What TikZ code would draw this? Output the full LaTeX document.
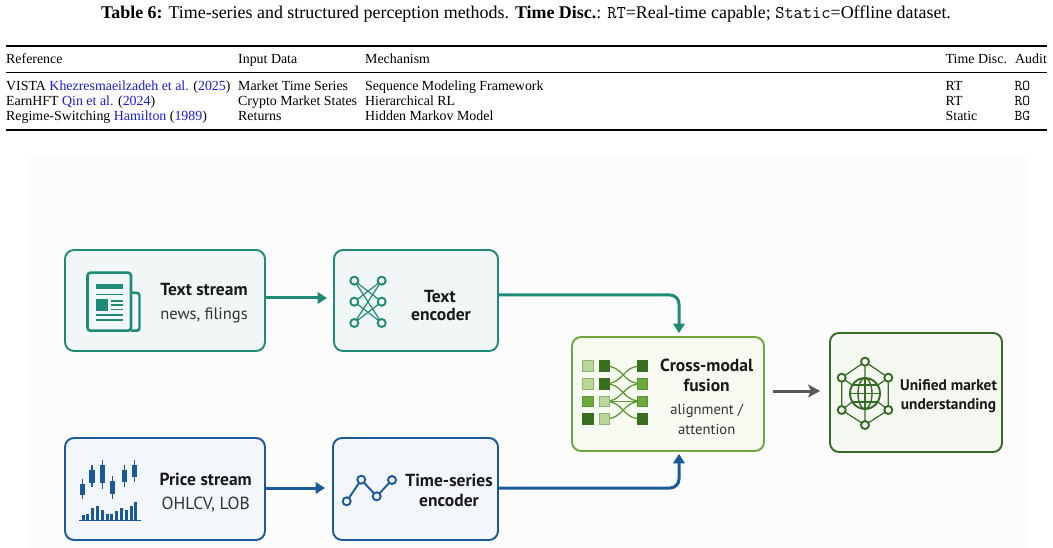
\documentclass[tikz,border=0pt]{standalone}
\usepackage{fontspec}
\setmainfont{Liberation Serif}
\newfontfamily\diagfont{PT Sans}
\usetikzlibrary{arrows.meta,calc}
\definecolor{teal1}{HTML}{1F8A78}
\definecolor{teal2}{HTML}{F0F7F6}
\definecolor{blue1}{HTML}{1A5A9A}
\definecolor{blue2}{HTML}{F3F7FB}
\definecolor{lime1}{HTML}{6FA83E}
\definecolor{lime2}{HTML}{F6FAF0}
\definecolor{grn1}{HTML}{356B25}
\definecolor{grn2}{HTML}{F4F8F0}
\definecolor{sqL}{HTML}{B9D79A}
\definecolor{sqM}{HTML}{6DA93D}
\definecolor{sqD}{HTML}{38701F}
\definecolor{linkc}{HTML}{1A1AE6}
\definecolor{panel}{HTML}{FCFCFC}
\definecolor{arrowg}{HTML}{595959}
\tikzset{
 x=1pt,y=-1pt,
 box/.style={draw=#1,line width=1.9pt,rounded corners=9pt,inner sep=0pt},
 tbl/.style={anchor=base west,inner sep=0pt,font=\fontsize{13.9}{15}\selectfont},
 head/.style={font=\diagfont\fontsize{17.5}{20}\selectfont\bfseries,inner sep=0pt,text=black!90},
 sub/.style={font=\diagfont\fontsize{16.5}{19}\selectfont,inner sep=0pt,text=black!80},
 flow/.style={line width=3pt,-{Stealth[length=9.5pt,width=11.5pt,inset=0pt]}},
 bent/.style={flow,rounded corners=9pt},
 sq/.style={minimum size=10.5pt,inner sep=0pt,draw=#1!65!sqD,line width=.8pt,fill=#1},
 ring/.style={circle,draw=#1,line width=1.9pt,fill=white,minimum size=8pt,inner sep=0pt},
}
\newcommand{\lnk}[1]{\textcolor{linkc}{#1}}
\newcommand{\ttcell}[1]{{\ttfamily\fontsize{15}{15}\selectfont #1}}
\begin{document}
\begin{tikzpicture}
\useasboundingbox (0,0) rectangle (1053,548);
\fill[panel] (27,155) rectangle (1027,548);
% caption
\node[anchor=base,inner sep=0pt,font=\fontsize{17.93}{20}\selectfont] (cap) at (526,18.5) {\textbf{Table 6:} Time-series and structured perception methods. \textbf{Time Disc.}: \texttt{RT}=Real-time capable; \texttt{Static}=Offline dataset.};
% rules
\coordinate (rtl) at (6,46); \coordinate (rtr) at (1047,46);
\coordinate (rml) at (6,72); \coordinate (rmr) at (1047,72);
\coordinate (rbl) at (6,130); \coordinate (rbr) at (1047,130);
\draw[line width=1.3pt] (rtl) -- (rtr);
\draw[line width=.7pt] (rml) -- (rmr);
\draw[line width=1.3pt] (rbl) -- (rbr);
% table
\node[tbl] (h1) at (6,64) {Reference};
\node[tbl] (h2) at (238,64) {Input Data};
\node[tbl] (h3) at (365,64) {Mechanism};
\node[tbl] (h4) at (945.5,64) {Time Disc.};
\node[tbl] (h5) at (1015,64) {Audit};
\node[tbl] (a1) at (6,90.5) {VISTA \lnk{Khezresmaeilzadeh et al.} (\lnk{2025})};
\node[tbl] (a2) at (238,90.5) {Market Time Series};
\node[tbl] (a3) at (365,90.5) {Sequence Modeling Framework};
\node[tbl] (a4) at (945.5,90.5) {RT};
\node[tbl] (a5) at (1014.5,90.5) {\ttcell{RO}};
\node[tbl] (b1) at (6,106) {EarnHFT \lnk{Qin et al.} (\lnk{2024})};
\node[tbl] (b2) at (238,106) {Crypto Market States};
\node[tbl] (b3) at (365,106) {Hierarchical RL};
\node[tbl] (b4) at (945.5,106) {RT};
\node[tbl] (b5) at (1014.5,106) {\ttcell{RO}};
\node[tbl] (c1) at (6,121) {Regime-Switching \lnk{Hamilton} (\lnk{1989})};
\node[tbl] (c2) at (238,121) {Returns};
\node[tbl] (c3) at (365,121) {Hidden Markov Model};
\node[tbl] (c4) at (945.5,121) {Static};
\node[tbl] (c5) at (1014.5,121) {\ttcell{BG}};
% boxes
\node[box=teal1,fill=teal2,minimum width=200pt,minimum height=101pt] (ts) at (165,300.5) {};
\node[box=teal1,fill=teal2,minimum width=164pt,minimum height=101pt] (te) at (416,300.5) {};
\node[box=blue1,fill=blue2,minimum width=200pt,minimum height=102pt] (ps) at (165,489) {};
\node[box=blue1,fill=blue2,minimum width=165pt,minimum height=102pt] (tse) at (415.5,489) {};
\node[box=lime1,fill=lime2,minimum width=192pt,minimum height=114pt] (fu) at (668,394) {};
\node[box=grn1,fill=grn2,minimum width=172pt,minimum height=119pt] (un) at (916,392.5) {};
% connectors
\draw[flow,teal1,shorten >=6pt,shorten <=0.5pt] (ts.east |- 0,298) -- (te.west |- 0,298);
\draw[bent,teal1,shorten >=3pt] (te.east |- 0,295) -| (fu.north -| 679,0);
\draw[flow,blue1,shorten >=7pt,shorten <=0.5pt] (ps.east |- 0,488) -- (tse.west |- 0,488);
\draw[bent,blue1,shorten >=2pt] (tse.east |- 0,488) -| (fu.south -| 679,0);
\draw[line width=3pt,arrowg,-{Stealth[length=12pt,width=13pt,inset=3pt]},shorten <=8pt,shorten >=9pt] (fu.east |- 0,391) -- (un.west |- 0,391);
% text labels
\node[head] (l1) at (204,289.5) {Text stream};
\node[sub] (l1b) at (204,315) {news, filings};
\node[head] (l2) at (440,296) {Text};
\node[head] (l2b) at (441,314.5) {encoder};
\node[head] (l3) at (205.7,479.5) {Price stream};
\node[sub,font=\diagfont\fontsize{17.5}{20}\selectfont] (l3b) at (205.7,505) {OHLCV, LOB};
\node[head] (l4) at (449,480.5) {Time-series};
\node[head] (l4b) at (449,500.5) {encoder};
\node[head] (l5) at (706.7,365.5) {Cross-modal};
\node[head] (l5b) at (706.7,385.5) {fusion};
\node[sub,font=\diagfont\fontsize{14.6}{17}\selectfont] (l5c) at (706.7,411) {alignment /};
\node[sub,font=\diagfont\fontsize{14.6}{17}\selectfont] (l5d) at (706.7,429) {attention};
\node[head,font=\diagfont\fontsize{15.4}{18}\selectfont\bfseries] (l6) at (948.5,385) {Unified market};
\node[head,font=\diagfont\fontsize{15.4}{18}\selectfont\bfseries] (l6b) at (948.5,405.5) {understanding};
% newspaper icon
\begin{scope}[teal1]
\draw[line width=2.4pt,rounded corners=2.5pt,fill=teal2] (131,292.5) -- (139.5,293) -- (139.5,330.7) -- (131,330.7);
\draw[line width=2.6pt,rounded corners=3pt,fill=teal2] (87.5,272.7) rectangle (131,330.7);
\fill (95.7,284) rectangle (123.3,289.3);
\fill (95.7,299.3) rectangle (108.3,311);
\draw[line width=1.3pt] (95.7,294.3) -- (123.3,294.3) (111,301) -- (123.3,301) (111,305) -- (123.3,305) (111,309.3) -- (123.3,309.3);
\draw[line width=1.4pt] (95.7,315) -- (123.3,315) (95.7,320) -- (123.3,320);
\end{scope}
% network icon
\begin{scope}[teal1]
\foreach \ya/\yb in {280.7/301.7,280.7/323,301.7/280.7,301.7/323,323/280.7,323/301.7}
 \draw[line width=1.2pt] (354.3,\ya) -- (381.7,\yb);
\foreach \yy in {280.7,301.7,323} {
 \node[ring=teal1,fill=teal2] at (354.3,\yy) {};
 \node[ring=teal1,fill=teal2] at (381.7,\yy) {};
}
\end{scope}
% candles
\begin{scope}[blue1]
\foreach \x/\wa/\wb/\ba/\bb in {83/152/213/167/200,111/112/178/125/165,142/97/182/112/165,173/143/213/158/198,209/112/178/127/163,239/97/162/110/147} {
 \draw[line width=1.1pt] ({55+\x/3},{428+\wa/3}) -- ({55+\x/3},{428+\wb/3});
 \fill ({55+\x/3-2.7},{428+\ba/3}) rectangle ({55+\x/3+2.7},{428+\bb/3});
}
\foreach \x/\t in {85/262,98/258,112/240,126/235,142/247,156/258,170/258,185/250,200/240,213/245,228/235,242/222}
 \fill ({55+\x/3-1.5},{428+\t/3}) rectangle ({55+\x/3+1.5},{428+278/3});
\draw[line width=1.4pt] (79,520.7) -- (140.7,520.7);
\end{scope}
% line icon
\draw[blue1,line width=1.9pt] (346.7,501.3) -- (361.3,479.7) -- (376.7,496.3) -- (392,480);
\foreach \p in {(346.7,501.3),(361.3,479.7),(376.7,496.3),(392,480)}
 \node[ring=blue1,fill=blue2] at \p {};
% fusion icon
\foreach \a/\b in {366/383.7,383.7/366,383.7/401.3,401.3/383.7,401.3/419,419/401.3,401.3/401.3}
 \draw[sqM!90!black,line width=1.3pt] (604.3,\a) .. controls (625,\a) and (621,\b) .. (642.3,\b);
\foreach \x/\y/\c in {587.7/366/sqL,587.7/383.7/sqL,587.7/401.3/sqM,587.7/419/sqD,
 604.3/366/sqD,604.3/383.7/sqD,604.3/401.3/sqL,604.3/419/sqL,
 642.3/366/sqD,642.3/383.7/sqM,642.3/401.3/sqM,642.3/419/sqD}
 \node[sq=\c] at (\x,\y) {};
% globe icon
\begin{scope}[grn1]
\draw[line width=1.2pt] (865,361.7) -- (888.3,377.7) -- (888.3,410) -- (865,425) -- (841.7,410) -- (841.7,377.7) -- cycle;
\draw[line width=1.2pt] (865,361.7) -- (865,378) (865,409) -- (865,425) (841.7,377.7) -- (852,385) (888.3,377.7) -- (878,385) (841.7,410) -- (852,402) (888.3,410) -- (878,402);
\draw[line width=1.9pt,fill=grn2] (865,393.5) ellipse (15pt and 15.5pt);
\draw[line width=1.4pt] (865,393.5) ellipse (7pt and 15.5pt);
\draw[line width=1.4pt] (865,378) -- (865,409) (850,393.5) -- (880,393.5);
\draw[line width=1.4pt] (852.5,385) -- (877.5,385) (852.5,402) -- (877.5,402);
\foreach \p in {(865,361.7),(888.3,377.7),(888.3,410),(865,425),(841.7,410),(841.7,377.7)}
 \node[ring=grn1,fill=grn2] at \p {};
\end{scope}
\end{tikzpicture}
\end{document}
